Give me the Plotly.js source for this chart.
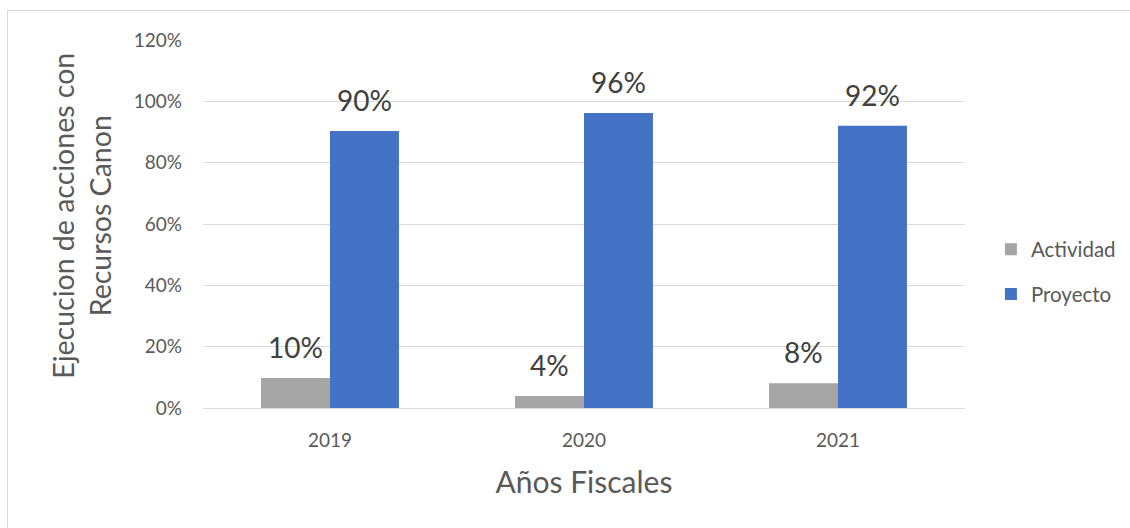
<!DOCTYPE html>
<html>
<head>
<meta charset="utf-8">
<script src="https://cdn.plot.ly/plotly-3.0.1.min.js"></script>
<style>
  html, body { margin: 0; padding: 0; background: #fff; }
  #wrap { position: relative; width: 1130px; height: 528px; }
  #chart { position: absolute; left: 0; top: 0; width: 1130px; height: 528px; }
  #frame { position: absolute; left: 7px; top: 10px; width: 1140px; height: 540px;
           border: 1px solid #d9d9d9; pointer-events: none; }
</style>
</head>
<body>
<div id="wrap"><div id="chart"></div><div id="frame"></div></div>
<script>
const years = ['2019', '2020', '2021'];
const actividad = [0.098, 0.039, 0.081];
const proyecto = [0.903, 0.962, 0.92];
const actividadLabels = ['10%', '4%', '8%'];
const proyectoLabels = ['90%', '96%', '92%'];
const yTicks = [0, 0.2, 0.4, 0.6, 0.8, 1.0, 1.2];
const yTitle = 'Ejecucion de acciones con<br>Recursos Canon';
const xTitle = 'Años Fiscales';

const FONT = 'Lato, "Open Sans", sans-serif';

const traces = [
  { type: 'bar', name: 'Actividad', x: years, y: actividad,
    marker: { color: '#a5a5a5' }, legend: 'legend', hoverinfo: 'none' },
  { type: 'bar', name: 'Proyecto', x: years, y: proyecto,
    marker: { color: '#4472c4' }, legend: 'legend2', hoverinfo: 'none' }
];

const annotations = [];
years.forEach((yr, i) => {
  annotations.push({ x: i, y: actividad[i], text: actividadLabels[i], xref: 'x', yref: 'y',
    showarrow: false, yanchor: 'bottom', xanchor: 'center', xshift: -34.5, yshift: 12,
    font: { family: FONT, size: 28, color: '#404040' } });
  annotations.push({ x: i, y: proyecto[i], text: proyectoLabels[i], xref: 'x', yref: 'y',
    showarrow: false, yanchor: 'bottom', xanchor: 'center', xshift: 34.5, yshift: 12,
    font: { family: FONT, size: 28, color: '#404040' } });
});
annotations.push({ text: yTitle, xref: 'paper', yref: 'paper', x: -0.159, y: 0.522,
  xanchor: 'center', yanchor: 'middle', textangle: -90, showarrow: false, align: 'center',
  font: { family: FONT, size: 28.5, color: '#595959' } });

const layout = {
  width: 1130, height: 528,
  margin: { l: 203, r: 165, t: 40, b: 120, autoexpand: false },
  paper_bgcolor: 'rgba(0,0,0,0)', plot_bgcolor: '#fff',
  font: { family: FONT, color: '#595959' },
  barmode: 'group', bargap: 0.457, bargroupgap: 0,
  xaxis: {
    type: 'category', range: [-0.5, 2.5], autorange: false, showgrid: false, zeroline: false,
    showline: true, linecolor: '#d9d9d9', linewidth: 1,
    ticks: '', ticklabelstandoff: 15,
    tickfont: { family: FONT, size: 19, color: '#595959' },
    title: { text: xTitle, standoff: 22, font: { family: FONT, size: 30, color: '#595959' } }
  },
  yaxis: {
    range: [0, 1.2], autorange: false, tickvals: yTicks, tickformat: '.0%',
    showgrid: true, gridcolor: '#d9d9d9', gridwidth: 1, zeroline: false,
    showline: false, ticks: '', ticklabelstandoff: 20,
    tickfont: { family: FONT, size: 19, color: '#595959' }
  },
  legend: { x: 1.034, xanchor: 'left', y: 0.37 + 0.061, yanchor: 'middle',
            font: { family: FONT, size: 20.5, color: '#595959' }, bgcolor: 'rgba(0,0,0,0)' },
  legend2: { x: 1.034, xanchor: 'left', y: 0.37 - 0.061, yanchor: 'middle',
             font: { family: FONT, size: 20.5, color: '#595959' }, bgcolor: 'rgba(0,0,0,0)' },
  annotations: annotations,
  showlegend: true
};

Plotly.newPlot('chart', traces, layout, { displayModeBar: false, staticPlot: true });
</script>
</body>
</html>
